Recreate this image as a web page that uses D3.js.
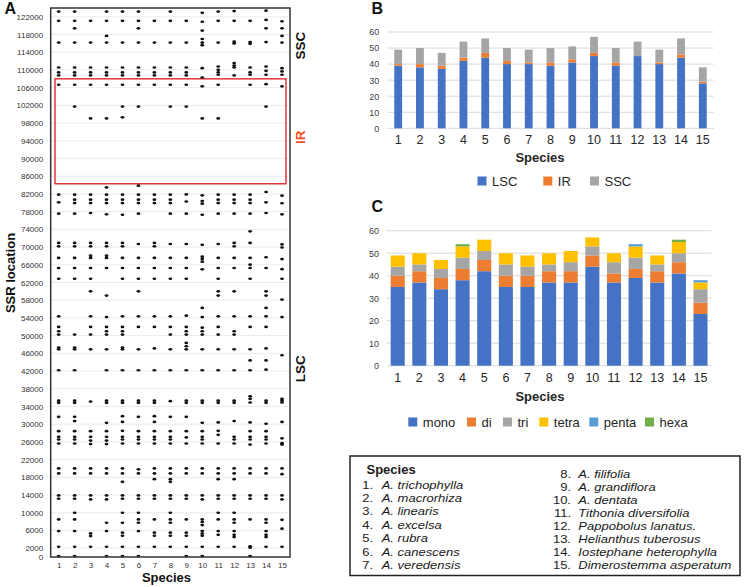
<!DOCTYPE html>
<html><head><meta charset="utf-8">
<script src="https://cdn.jsdelivr.net/npm/d3@7"></script>
<style>body{margin:0;background:#fff}svg{display:block;font-family:"Liberation Sans",Arial,Helvetica,sans-serif}</style>
</head><body>
<svg id="chart" width="745" height="587"></svg>
<script>
// ---------- DATA ----------
const speciesIds = ["1","2","3","4","5","6","7","8","9","10","11","12","13","14","15"];
const speciesNames = ["A. trichophylla","A. macrorhiza","A. linearis","A. excelsa","A. rubra","A. canescens","A. veredensis","A. filifolia","A. grandiflora","A. dentata","Tithonia diversifolia","Pappobolus lanatus.","Helianthus tuberosus","Iostephane heterophylla","Dimerostemma asperatum"];

// Panel A: SSR locations (bp) per species
const ssrLoc = [
 [123200,121100,116200,110560,109440,108760,106660,81830,80100,77540,70930,70170,67540,65280,62850,54370,51970,50990,50240,47300,46900,42180,35300,34820,31660,28420,27150,26540,25640,20000,18870,13900,13160,8490,5850,2320,200],
 [123200,121100,119400,116200,110560,109440,108760,106660,101740,81830,80700,79950,77540,70930,70170,67540,65280,62850,50240,47300,46900,42180,35300,34820,31660,30700,28420,27150,26540,25640,20000,18870,13900,13160,10000,8490,5850,2320,200],
 [121100,116200,110560,109440,108760,106660,99060,81830,80700,79950,77700,70930,70170,68060,67540,65280,62850,60010,54370,51970,50240,46900,35100,28420,27150,26300,25500,20000,18870,13900,13000,5330,4720,2320],
 [123200,121100,117700,116200,110560,109440,108760,106660,99060,83480,81830,80700,79950,77400,70930,70170,68060,67540,65280,59040,54200,51970,50990,50240,46900,42180,35300,34820,30300,28420,27150,26300,25500,20000,18870,13900,13000,7740,5850,2320,200],
 [123200,121100,116200,110560,109440,108760,106660,101740,99300,81830,80700,79950,77300,70930,70170,67540,65280,62850,54370,51970,50990,50240,47300,46900,42180,35300,34820,31800,30500,28500,27150,26540,25640,20000,18870,16990,13900,13160,10000,7740,5500,4800,2320,200],
 [123200,121100,119400,116200,110560,109440,108760,106660,101740,83860,81830,80700,79950,77540,70700,67540,65280,62850,60010,54370,51970,46900,42180,35300,34820,31660,28420,27150,26540,25640,19800,18870,13900,13160,10000,8490,7740,5850,2320,200],
 [121100,116200,110560,109440,108760,106660,81830,80700,79950,70930,70170,67540,65280,62850,54370,51970,47100,42180,35300,34820,31800,30500,28420,27150,26540,25640,20000,18870,17580,13900,13160,8490,5500,4800,2320],
 [123200,121100,116200,110560,109440,108760,106660,101740,81830,80700,79950,77540,70700,67540,65280,62850,54370,51970,50240,46900,42180,35200,31660,28420,27150,26540,25640,20000,18870,17580,16990,13900,13160,10000,8490,7740,5500,4800,2320],
 [121100,116200,110560,109440,108760,106660,101740,81900,80300,77540,70700,67540,65280,62850,54500,51970,50990,50240,48360,47600,46900,42180,35300,34820,31660,28420,27000,25640,20000,18870,13900,13160,8490,5500,4800,2320,200],
 [122900,120900,118900,117000,116200,115600,110410,108300,106300,99060,81700,80400,79800,77300,70500,67830,67310,66700,64970,56260,54200,51800,50990,50240,46900,42180,35300,34820,30300,28420,27150,26540,25640,20000,18870,13900,13000,8490,7900,7200,5850,5300,4800,2320,200],
 [123200,121100,116200,110790,110040,109440,108920,106660,99060,81830,80700,79950,77540,70700,67540,65280,62850,60010,59040,54370,51970,50240,46900,42180,35300,34820,30400,28500,27600,25640,20000,18870,17580,13900,13160,10000,8490,5850,5000,2320],
 [123300,121100,116400,116000,111550,111000,110560,108760,81830,80700,79950,77540,70930,70170,67540,65280,60010,54370,50990,50240,46900,42180,35300,34820,30700,27150,26540,25640,20000,18870,17580,13900,13160,10000,8490,7740,5850,5000,4500,2320],
 [121100,116300,115900,110560,109440,108920,106660,81830,80700,79950,77540,73550,70930,67540,66030,65280,62850,54370,51970,46900,44400,42180,36310,35720,34900,30400,28420,27150,26540,25400,20000,18870,13900,13160,8490,2400,2100,200],
 [123400,121300,119400,116300,110790,109820,108920,106800,101740,82440,80100,77700,67700,65280,60010,59040,56260,54370,51970,47100,44400,42300,35300,34820,30100,28420,27150,26540,25640,20000,18870,13900,13160,8490,7740,5850,5000,4500,2320],
 [121000,119400,117700,116200,110410,109670,108920,106300,81600,79900,77400,70600,69900,67300,65000,62850,58140,54200,45570,35700,35300,34900,30500,26800,25700,25400,20000,18700,13900,13000,8400,6400,2320]
];
const aTicks = [0,2000,6000,10000,14000,18000,22000,26000,30000,34000,38000,42000,46000,50000,54000,58000,62000,66000,70000,74000,78000,82000,86000,90000,94000,98000,102000,106000,110000,114000,118000,122000];
const aMax = 124000;
const irRange = [84300, 108000];
const regionLabels = [{t:"SSC", v:115500, c:"#111"}, {t:"IR", v:94800, c:"#f0501e"}, {t:"LSC", v:42500, c:"#111"}];

// Panel B
const lsc = [39,38,37,42,44,40,40,39,41,45,39,45,40,44,28];
const ir  = [1,2,2,2,3,2,1,2,2,2,2,0,1,2,1];
const ssc = [9,10,8,10,9,8,8,9,8,10,9,9,8,10,9];
const bKeys = ["LSC","IR","SSC"];
const bColors = ["#4472c4","#ed7d31","#a5a5a5"];

// Panel C
const mono  = [35,37,34,38,42,35,35,37,37,44,37,39,37,41,23];
const di    = [5,5,5,5,5,5,5,5,5,5,4,4,5,5,5];
const tri   = [4,3,4,5,4,5,4,3,4,4,5,5,3,4,6];
const tetra = [5,5,4,5,5,5,5,5,5,4,4,5,4,5,3];
const penta = [0,0,0,0,0,0,0,0,0,0,0,1,0,0,1];
const hexa  = [0,0,0,1,0,0,0,0,0,0,0,0,0,1,0];
const cKeys = ["mono","di","tri","tetra","penta","hexa"];
const cColors = ["#4472c4","#ed7d31","#a5a5a5","#ffc000","#5b9bd5","#70ad47"];
const barTicks = [0,10,20,30,40,50,60];

// ---------- DRAW ----------
const svg = d3.select("#chart");
const FONT = '"Liberation Sans",Arial,sans-serif';

// ===== Panel A =====
const aL = 50.7, aR = 290, aT = 8, aB = 557;
const xA = d3.scalePoint().domain(speciesIds).range([aL, aR]).padding(0.5);
const yA = d3.scaleLinear().domain([0, aMax]).range([aB, aT]);
const gA = svg.append("g");

gA.append("g").selectAll("line").data(aTicks.filter(d=>d>0)).join("line")
  .attr("x1", aL).attr("x2", aR).attr("y1", d=>yA(d)).attr("y2", d=>yA(d))
  .attr("stroke", "#e4e4e4").attr("stroke-width", 0.8);

const axA = gA.append("g").attr("transform", `translate(${aL},0)`)
  .call(d3.axisLeft(yA).tickValues(aTicks).tickSize(0).tickPadding(7.5).tickFormat(d=>String(d)));
axA.select(".domain").remove();
axA.selectAll("text").attr("font-size", 8).attr("fill", "#333").attr("font-family", FONT);

const axAx = gA.append("g").attr("transform", `translate(0,${aB})`)
  .call(d3.axisBottom(xA).tickSize(0).tickPadding(5));
axAx.select(".domain").remove();
axAx.selectAll("text").attr("font-size", 8).attr("fill", "#333").attr("font-family", FONT);

// IR box
gA.append("rect")
  .attr("x", aL + 4.3).attr("width", (aR - 4) - (aL + 4.3))
  .attr("y", yA(irRange[1])).attr("height", yA(irRange[0]) - yA(irRange[1]))
  .attr("fill", "none").attr("stroke", "#e4262c").attr("stroke-width", 1.4);

// dots
const ssrPts = ssrLoc.flatMap((arr, i) => arr.map(v => ({s: speciesIds[i], v})));
gA.append("g").selectAll("ellipse").data(ssrPts).join("ellipse")
  .attr("cx", d=>xA(d.s)).attr("cy", d=>yA(d.v))
  .attr("rx", 1.9).attr("ry", 1.35).attr("fill", "#111");

// frame
gA.append("rect").attr("x", aL).attr("y", aT).attr("width", aR-aL).attr("height", aB-aT)
  .attr("fill", "none").attr("stroke", "#333").attr("stroke-width", 1.5);

// region labels
gA.selectAll("text.reg").data(regionLabels).join("text").attr("class","reg")
  .attr("transform", d=>`translate(304.5,${yA(d.v)}) rotate(-90)`)
  .attr("text-anchor","middle").attr("font-size", 13.5).attr("font-weight","bold")
  .attr("fill", d=>d.c).text(d=>d.t);

svg.append("text").attr("x", 166.5).attr("y", 582).attr("text-anchor","middle")
  .attr("font-size", 13).attr("font-weight","bold").attr("fill","#111").text("Species");
svg.append("text").attr("transform","translate(14.5,273) rotate(-90)").attr("text-anchor","middle")
  .attr("font-size", 13).attr("font-weight","bold").attr("fill","#111").text("SSR location");
svg.append("text").attr("x", 4.5).attr("y", 13.5).attr("font-size", 16).attr("font-weight","bold").attr("fill","#111").text("A");

// ===== Stacked bar helper =====
function stackedPanel(cfg) {
  const g = svg.append("g");
  const x = d3.scaleBand().domain(speciesIds).range([cfg.x0, cfg.x1]).paddingInner(cfg.pad).paddingOuter(cfg.pad/2);
  const y = d3.scaleLinear().domain([0, 60]).range([cfg.yb, cfg.yt]);
  g.append("g").selectAll("line").data(barTicks).join("line")
    .attr("x1", cfg.x0).attr("x2", cfg.x1).attr("y1", d=>y(d)).attr("y2", d=>y(d))
    .attr("stroke", "#d9d9d9").attr("stroke-width", 1);
  const rows = speciesIds.map((s, i) => {
    const o = {s};
    cfg.keys.forEach((k, j) => o[k] = cfg.series[j][i]);
    return o;
  });
  const stack = d3.stack().keys(cfg.keys)(rows);
  g.append("g").selectAll("g").data(stack).join("g").attr("fill", (d, i) => cfg.colors[i])
    .selectAll("rect").data(d => d).join("rect")
    .attr("x", d => x(d.data.s)).attr("width", x.bandwidth())
    .attr("y", d => y(d[1])).attr("height", d => Math.max(0, y(d[0]) - y(d[1])));
  const ay = g.append("g").attr("transform", `translate(${cfg.x0},0)`)
    .call(d3.axisLeft(y).tickValues(barTicks).tickSize(0).tickPadding(8));
  ay.select(".domain").remove();
  ay.selectAll("text").attr("font-size", 9).attr("fill", "#404040").attr("font-family", FONT);
  const ax = g.append("g").attr("transform", `translate(0,${cfg.yb})`)
    .call(d3.axisBottom(x).tickSize(0).tickPadding(cfg.xpad));
  ax.select(".domain").remove();
  ax.selectAll("text").attr("font-size", 12.5).attr("fill", "#262626").attr("font-family", FONT);
  g.append("text").attr("x", 540).attr("y", cfg.titleY).attr("text-anchor","middle")
    .attr("font-size", 13).attr("font-weight","bold").attr("fill","#262626").text("Species");
  g.append("text").attr("x", 371.5).attr("y", cfg.letterY).attr("font-size", 16).attr("font-weight","bold").attr("fill","#111").text(cfg.letter);
  // legend
  const lg = g.append("g").selectAll("g").data(cfg.keys).join("g")
    .attr("transform", (d, i) => `translate(${cfg.legX[i]},${cfg.legY})`);
  lg.append("rect").attr("x", 0).attr("y", -9).attr("width", 9).attr("height", 9).attr("fill", (d, i) => cfg.colors[i]);
  lg.append("text").attr("x", 14.5).attr("y", 0).attr("font-size", 13).attr("fill", "#262626").text(d => d);
}

stackedPanel({keys: bKeys, colors: bColors, series: [lsc, ir, ssc],
  x0: 387.3, x1: 713.7, yb: 128.3, yt: 32, pad: 0.64, xpad: 6.5,
  titleY: 161.5, letter: "B", letterY: 13.5, legX: [477.5, 543.3, 590], legY: 185.5});

stackedPanel({keys: cKeys, colors: cColors, series: [mono, di, tri, tetra, penta, hexa],
  x0: 386.9, x1: 711.3, yb: 365.7, yt: 230.7, pad: 0.35, xpad: 7.2,
  titleY: 401, letter: "C", letterY: 211.5, legX: [408.3, 467, 503, 539.3, 589.3, 645], legY: 426.5});

// ===== Species legend box =====
const box = svg.append("g");
box.append("rect").attr("x", 350).attr("y", 456).attr("width", 390).attr("height", 119.5)
  .attr("fill", "none").attr("stroke", "#222").attr("stroke-width", 1.5);
box.append("text").attr("x", 366.5).attr("y", 474).attr("font-size", 13).attr("font-weight","bold").attr("fill","#1a1a1a").text("Species");
const items = speciesNames.map((n, i) => ({n, id: speciesIds[i], i}));
const it = box.selectAll("g.item").data(items).join("g").attr("class","item")
  .attr("transform", d => d.i < 7 ? `translate(0,${488.5 + d.i*13.45})` : `translate(0,${477.5 + (d.i-7)*13.1})`);
const small = 11.5;
function fitText(sel) {
  sel.each(function() {
    const t = d3.select(this);
    const w = this.getComputedTextLength();
    t.attr("font-size", small).attr("textLength", w).attr("lengthAdjust", "spacingAndGlyphs");
  });
}
it.append("text").attr("x", d => d.i < 7 ? 373 : 571).attr("text-anchor","end")
  .attr("font-size", 13).attr("fill","#1a1a1a").text(d => d.id + ".").call(fitText);
it.append("text").attr("x", d => d.i < 7 ? 381.7 : 578.3)
  .attr("font-size", 13).attr("font-style","italic").attr("fill","#1a1a1a").text(d => d.n).call(fitText);
</script>
</body></html>
